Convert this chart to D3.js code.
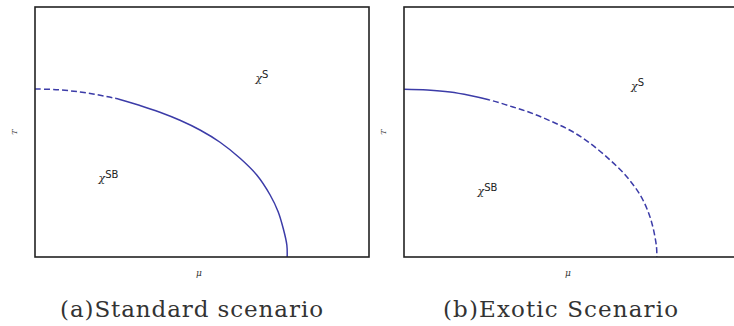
<!DOCTYPE html>
<html>
<head>
<meta charset="utf-8">
<script src="https://cdn.jsdelivr.net/npm/d3@7"></script>
<style>
  body { margin: 0; background: #fff; }
  svg { display: block; }
</style>
</head>
<body>
<svg id="chart" width="734" height="326"></svg>
<script>
// phase boundary (mu, T in box units 0..1)
const muA = [0, 0.07, 0.135, 0.195, 0.254, 0.314, 0.374, 0.434, 0.494, 0.554, 0.614, 0.664, 0.704, 0.728, 0.743, 0.754, 0.755];
const tA  = [0.672, 0.669, 0.660, 0.647, 0.630, 0.606, 0.579, 0.547, 0.508, 0.459, 0.395, 0.328, 0.248, 0.181, 0.115, 0.048, 0];
const muB = [0, 0.07, 0.138, 0.198, 0.257, 0.317, 0.377, 0.437, 0.497, 0.557, 0.617, 0.667, 0.707, 0.731, 0.746, 0.756, 0.757];
const tB  = [0.671, 0.668, 0.660, 0.646, 0.628, 0.604, 0.578, 0.545, 0.507, 0.455, 0.388, 0.321, 0.248, 0.181, 0.115, 0.040, 0];
// where the line style switches
const splitA = 0.24, splitB = 0.257;
const captions = ['(a)Standard scenario', '(b)Exotic Scenario'];

const svg = d3.select('#chart');
const blue = '#3c3ca8';

const panels = [
  { id: 'a', left: 35, mu: muA, t: tA, split: splitA, firstDashed: true, cap: captions[0],
    capX: 60, capW: 263, lblS: [0.66, 0.7], lblSB: [0.19, 0.3] },
  { id: 'b', left: 404, mu: muB, t: tB, split: splitB, firstDashed: false, cap: captions[1],
    capX: 443, capW: 235, lblS: [0.68, 0.67], lblSB: [0.22, 0.25] }
];

const boxTop = 7, boxH = 250, boxW = 334;
const defs = svg.append('defs');

panels.forEach((p) => {
  const x = d3.scaleLinear().domain([0, 1]).range([p.left, p.left + boxW]);
  const y = d3.scaleLinear().domain([0, 1]).range([boxTop + boxH, boxTop]);
  const pts = p.mu.map((m, i) => [m, p.t[i]]);

  const line = d3.line()
    .x((d) => x(d[0]))
    .y((d) => y(d[1]))
    .curve(d3.curveCatmullRom.alpha(0.5));

  // clip regions left / right of the style switch
  defs.append('clipPath').attr('id', `left-${p.id}`)
    .append('rect')
    .attr('x', x(0) - 5).attr('y', 0)
    .attr('width', x(p.split) - x(0) + 5).attr('height', 326);
  defs.append('clipPath').attr('id', `right-${p.id}`)
    .append('rect')
    .attr('x', x(p.split)).attr('y', 0)
    .attr('width', boxW).attr('height', 326);

  svg.append('path')
    .attr('d', line(pts))
    .attr('clip-path', `url(#left-${p.id})`)
    .attr('fill', 'none')
    .attr('stroke', blue)
    .attr('stroke-width', 1.5)
    .attr('stroke-dasharray', p.firstDashed ? '6,3' : null);

  svg.append('path')
    .attr('d', line(pts))
    .attr('clip-path', `url(#right-${p.id})`)
    .attr('fill', 'none')
    .attr('stroke', blue)
    .attr('stroke-width', 1.5)
    .attr('stroke-dasharray', p.firstDashed ? null : '6,3');

  // frame
  svg.append('rect')
    .attr('x', p.left)
    .attr('y', boxTop)
    .attr('width', boxW)
    .attr('height', boxH)
    .attr('fill', 'none')
    .attr('stroke', '#222')
    .attr('stroke-width', 1.6);

  // axis labels
  svg.append('text')
    .attr('transform', `translate(${p.left - 18},${boxTop + boxH / 2}) rotate(-90)`)
    .attr('text-anchor', 'middle')
    .style('font', 'italic 8px "DejaVu Serif"')
    .attr('fill', '#444')
    .text('T');

  svg.append('text')
    .attr('x', p.left + boxW * 0.5 - 3)
    .attr('y', boxTop + boxH + 19)
    .attr('text-anchor', 'middle')
    .style('font', 'italic 9px "DejaVu Serif"')
    .attr('fill', '#333')
    .text('μ');

  // region labels
  [[p.lblS, 'S'], [p.lblSB, 'SB']].forEach(([pos, sup]) => {
    const t = svg.append('text')
      .attr('x', x(pos[0]))
      .attr('y', y(pos[1]))
      .style('font', '11px "DejaVu Sans"')
      .attr('fill', '#222');
    t.append('tspan').style('font-style', 'italic').style('font-family', 'DejaVu Serif').text('χ');
    t.append('tspan').attr('dy', -4).style('font-size', '10px').text(sup);
  });

  // caption
  svg.append('text')
    .attr('x', p.capX)
    .attr('y', 317)
    .attr('textLength', p.capW)
    .attr('lengthAdjust', 'spacing')
    .style('font', '23px "DejaVu Serif"')
    .attr('fill', '#333')
    .text(p.cap);
});
</script>
</body>
</html>
